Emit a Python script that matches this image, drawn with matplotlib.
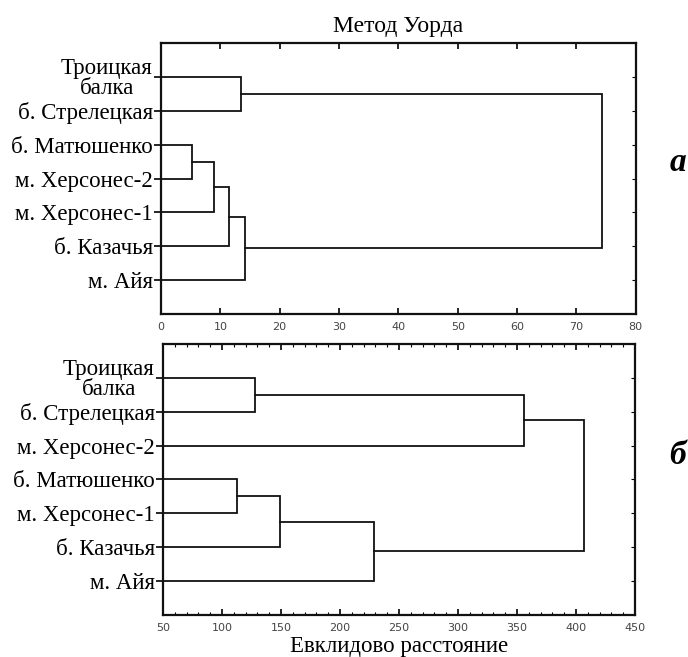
import matplotlib
matplotlib.use("Agg")
import matplotlib.pyplot as plt
from matplotlib.ticker import MultipleLocator

# Ward method dendrograms: leaves (top to bottom) and merges (child a, child b, distance)
# leaves are nodes 0..6, each merge creates node 7, 8, ...
top_labels = ["Троицкая\nбалка", "б. Стрелецкая", "б. Матюшенко", "м. Херсонес-2",
              "м. Херсонес-1", "б. Казачья", "м. Айя"]
top_merges = [(2, 3, 5.3), (7, 4, 9.0), (8, 5, 11.5), (9, 6, 14.1),
              (0, 1, 13.4), (11, 10, 74.3)]
top_xticks = [0, 10, 20, 30, 40, 50, 60, 70, 80]

bottom_labels = ["Троицкая\nбалка", "б. Стрелецкая", "м. Херсонес-2", "б. Матюшенко",
                 "м. Херсонес-1", "б. Казачья", "м. Айя"]
bottom_merges = [(0, 1, 128), (7, 2, 356), (3, 4, 113), (9, 5, 149),
                 (10, 6, 229), (8, 11, 407)]
bottom_xticks = [50, 100, 150, 200, 250, 300, 350, 400, 450]

serif = "Liberation Serif"


def draw_tree(ax, labels, merges, xticks, minor=None):
    xmin = xticks[0]
    n = len(labels)
    ypos = {i: i + 1 for i in range(n)}
    xpos = {i: xmin for i in range(n)}
    for k, (a, b, h) in enumerate(merges):
        ax.plot([xpos[a], h, h, xpos[b]], [ypos[a], ypos[a], ypos[b], ypos[b]],
                color="#111111", lw=1.3, solid_joinstyle="miter")
        ypos[n + k] = (ypos[a] + ypos[b]) / 2
        xpos[n + k] = h

    ax.set_xlim(xticks[0], xticks[-1])
    ax.set_ylim(n + 1, 0)
    ax.set_xticks(xticks)
    if minor:
        ax.xaxis.set_minor_locator(MultipleLocator(minor))
    ax.set_yticks(range(1, n + 1))
    ax.set_yticklabels(labels, fontfamily=serif, fontsize=16.5, linespacing=0.9)
    for lbl in ax.get_yticklabels():
        lbl.set_multialignment("center")

    ax.tick_params(axis="x", which="both", direction="in", top=True, bottom=True,
                   labelsize=8, labelcolor="#444444", pad=6)
    ax.tick_params(axis="x", which="major", length=4, width=1.2)
    ax.tick_params(axis="x", which="minor", length=2, width=0.8)
    ax.tick_params(axis="y", direction="out", length=5, width=1.2, pad=1)
    sec = ax.secondary_yaxis("right")
    sec.set_yticks(range(1, n + 1))
    sec.tick_params(direction="in", length=3, width=0.8, labelright=False)
    sec.spines["right"].set_visible(False)
    for s in ax.spines.values():
        s.set_linewidth(1.6)
        s.set_color("#111111")


fig = plt.figure(figsize=(6.88, 6.57), dpi=100)
ax1 = fig.add_axes([0.234, 0.522, 0.690, 0.4125])
ax2 = fig.add_axes([0.237, 0.064, 0.686, 0.4125])

draw_tree(ax1, top_labels, top_merges, top_xticks)
draw_tree(ax2, bottom_labels, bottom_merges, bottom_xticks, minor=10)

ax1.set_title("Метод Уорда", fontfamily=serif, fontsize=17, pad=8)
ax2.set_xlabel("Евклидово расстояние", fontfamily=serif, fontsize=16.5, labelpad=2)

fig.text(0.997, 0.752, "а", fontfamily=serif, fontsize=24, fontweight="bold",
         fontstyle="italic", ha="right", va="center")
fig.text(0.997, 0.307, "б", fontfamily=serif, fontsize=24, fontweight="bold",
         fontstyle="italic", ha="right", va="center")

fig.savefig("out.png", dpi=100, facecolor="white")
